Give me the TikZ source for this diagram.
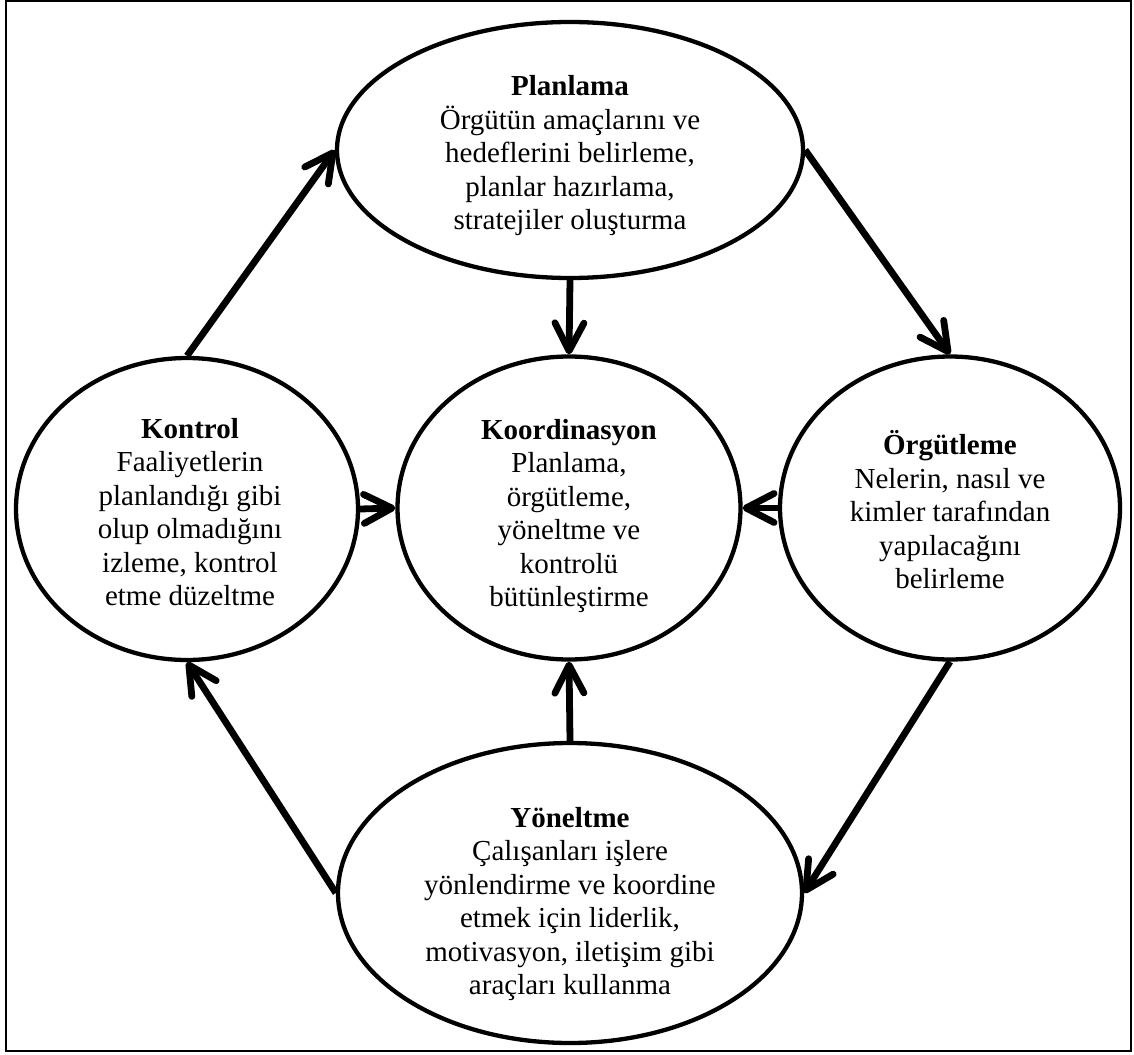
\documentclass[tikz,border=0pt]{standalone}
\usepackage{fontspec}
\setmainfont{Liberation Serif}
\usetikzlibrary{shapes.geometric,arrows.meta}
\begin{document}
\begin{tikzpicture}[x=1pt,y=-1pt,
  bubble/.style={ellipse,draw,line width=4.3pt,inner sep=0pt},
  label/.style={align=center,inner sep=0pt,font=\fontsize{29}{33.5}\selectfont},
  flow/.style={line width=6.8pt,-{Straight Barb[length=28pt,width=29pt,line width=6.8pt,round]}}
]
\useasboundingbox (0,0) rectangle (1134,1054);
\draw[line width=2pt] (6,1) rectangle (1131,1051);

\node[bubble,minimum width=466pt,minimum height=256pt] (plan) at (570,150) {};
\node[bubble,minimum width=343pt,minimum height=303pt] (koor) at (569,508) {};
\node[bubble,minimum width=340pt,minimum height=303pt] (org) at (950,508) {};
\node[bubble,minimum width=342pt,minimum height=302pt] (kon) at (187,509) {};
\node[bubble,minimum width=464pt,minimum height=300pt] (yon) at (570,893) {};

\node[label] (plant) at (570,156) {\textbf{Planlama}\\Örgütün amaçlarını ve\\hedeflerini belirleme,\\planlar hazırlama,\\stratejiler oluşturma};
\node[label] (koort) at (569,516) {\textbf{Koordinasyon}\\Planlama,\\örgütleme,\\yöneltme ve\\kontrolü\\bütünleştirme};
\node[label] (orgt) at (950,510) {\textbf{Örgütleme}\\Nelerin, nasıl ve\\kimler tarafından\\yapılacağını\\belirleme};
\node[label] (kont) at (190,512) {\textbf{Kontrol}\\Faaliyetlerin\\planlandığı gibi\\olup olmadığını\\izleme, kontrol\\etme düzeltme};
\node[label] (yont) at (570,904) {\textbf{Yöneltme}\\Çalışanları işlere\\yönlendirme ve koordine\\etmek için liderlik,\\motivasyon, iletişim gibi\\araçları kullanma};

\draw[flow] (kon.north) -- (plan.west);
\draw[flow] (plan.east) -- (org.north);
\draw[flow] (org.south) -- (yon.east);
\draw[flow] (yon.west) -- (kon.south);
\draw[flow] (plan.south) -- (koor.north);
\draw[flow] (yon.north) -- (koor.south);
\draw[flow] (kon.east) -- (koor.west);
\draw[flow] (org.west) -- (koor.east);
\end{tikzpicture}
\end{document}
